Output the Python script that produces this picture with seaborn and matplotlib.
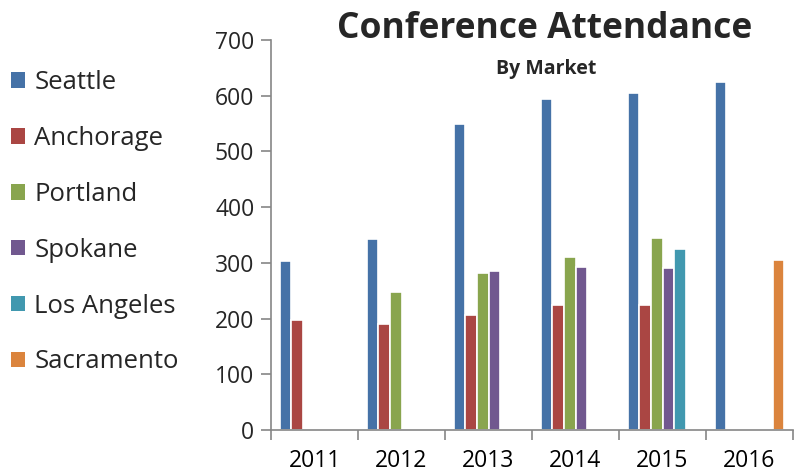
import numpy as np
import pandas as pd
import matplotlib
matplotlib.use("Agg")
import matplotlib.pyplot as plt
import seaborn as sns
from matplotlib.patches import Patch

years = ["2011", "2012", "2013", "2014", "2015", "2016"]
markets = ["Seattle", "Anchorage", "Portland", "Spokane", "Los Angeles", "Sacramento"]
seattle = [304, 342, 549, 594, 605, 624]
anchorage = [197, 190, 206, 224, 224, np.nan]
portland = [np.nan, 248, 281, 311, 344, np.nan]
spokane = [np.nan, np.nan, 286, 292, 290, np.nan]
los_angeles = [np.nan, np.nan, np.nan, np.nan, 324, np.nan]
sacramento = [np.nan, np.nan, np.nan, np.nan, np.nan, 305]
colors = ["#4572A7", "#AA4643", "#89A54E", "#71588F", "#4198AF", "#DB843D"]
y_ticks = [0, 100, 200, 300, 400, 500, 600, 700]

series = [seattle, anchorage, portland, spokane, los_angeles, sacramento]
rows = []
for m, vals in zip(markets, series):
    for y, v in zip(years, vals):
        rows.append({"year": y, "market": m, "value": v})
df = pd.DataFrame(rows)

sns.set_theme(style="white")
plt.rcParams["font.family"] = ["Open Sans", "DejaVu Sans"]

fig = plt.figure(figsize=(7.98, 4.76), dpi=100)
W, H = 798, 476
ax = fig.add_axes([271 / W, 1 - 430 / H, (793 - 271) / W, (430 - 40) / H])

sns.barplot(data=df, x="year", y="value", hue="market", order=years,
            hue_order=markets, palette=colors, width=0.8, dodge=True,
            edgecolor="white", linewidth=1.2, saturation=1, ax=ax,
            errorbar=None)
if ax.get_legend() is not None:
    ax.get_legend().remove()

ax.set_xlim(-0.5, 5.5)
ax.set_ylim(0, 700)
ax.set_yticks(y_ticks)
ax.set_yticklabels([str(t) for t in y_ticks], fontsize=16.5)
ax.set_xlabel("")
ax.set_ylabel("")
ax.set_xticks(range(len(years)))
ax.set_xticklabels(years, fontsize=16.5)
ax.set_xticks(np.arange(-0.5, 6.0, 1.0), minor=True)
ax.tick_params(axis="x", which="major", length=0, pad=14, colors="black")
ax.tick_params(axis="x", which="minor", length=7, width=1.2, color="#868686", direction="out", bottom=True)
ax.tick_params(axis="y", which="major", length=7, width=1.2, color="#868686", direction="out", left=True, pad=5)
for s in ["top", "right"]:
    ax.spines[s].set_visible(False)
for s in ["left", "bottom"]:
    ax.spines[s].set_color("#868686")
    ax.spines[s].set_linewidth(1.2)

fig.text(545 / W, 1 - 38 / H, "Conference Attendance", ha="center", va="baseline",
         fontsize=25.5, fontweight="bold")
fig.text(546 / W, 1 - 74 / H, "By Market", ha="center", va="baseline",
         fontsize=14, fontweight="bold")

handles = [Patch(facecolor=c, edgecolor="none") for c in colors]
fig.legend(handles, markets, loc="upper left", bbox_to_anchor=(1 / W, 1 - 60 / H),
           frameon=False, fontsize=18.5, handlelength=0.55, handleheight=0.55,
           handletextpad=0.35, labelspacing=1.2, borderaxespad=0)

fig.savefig("out.png", dpi=100)
